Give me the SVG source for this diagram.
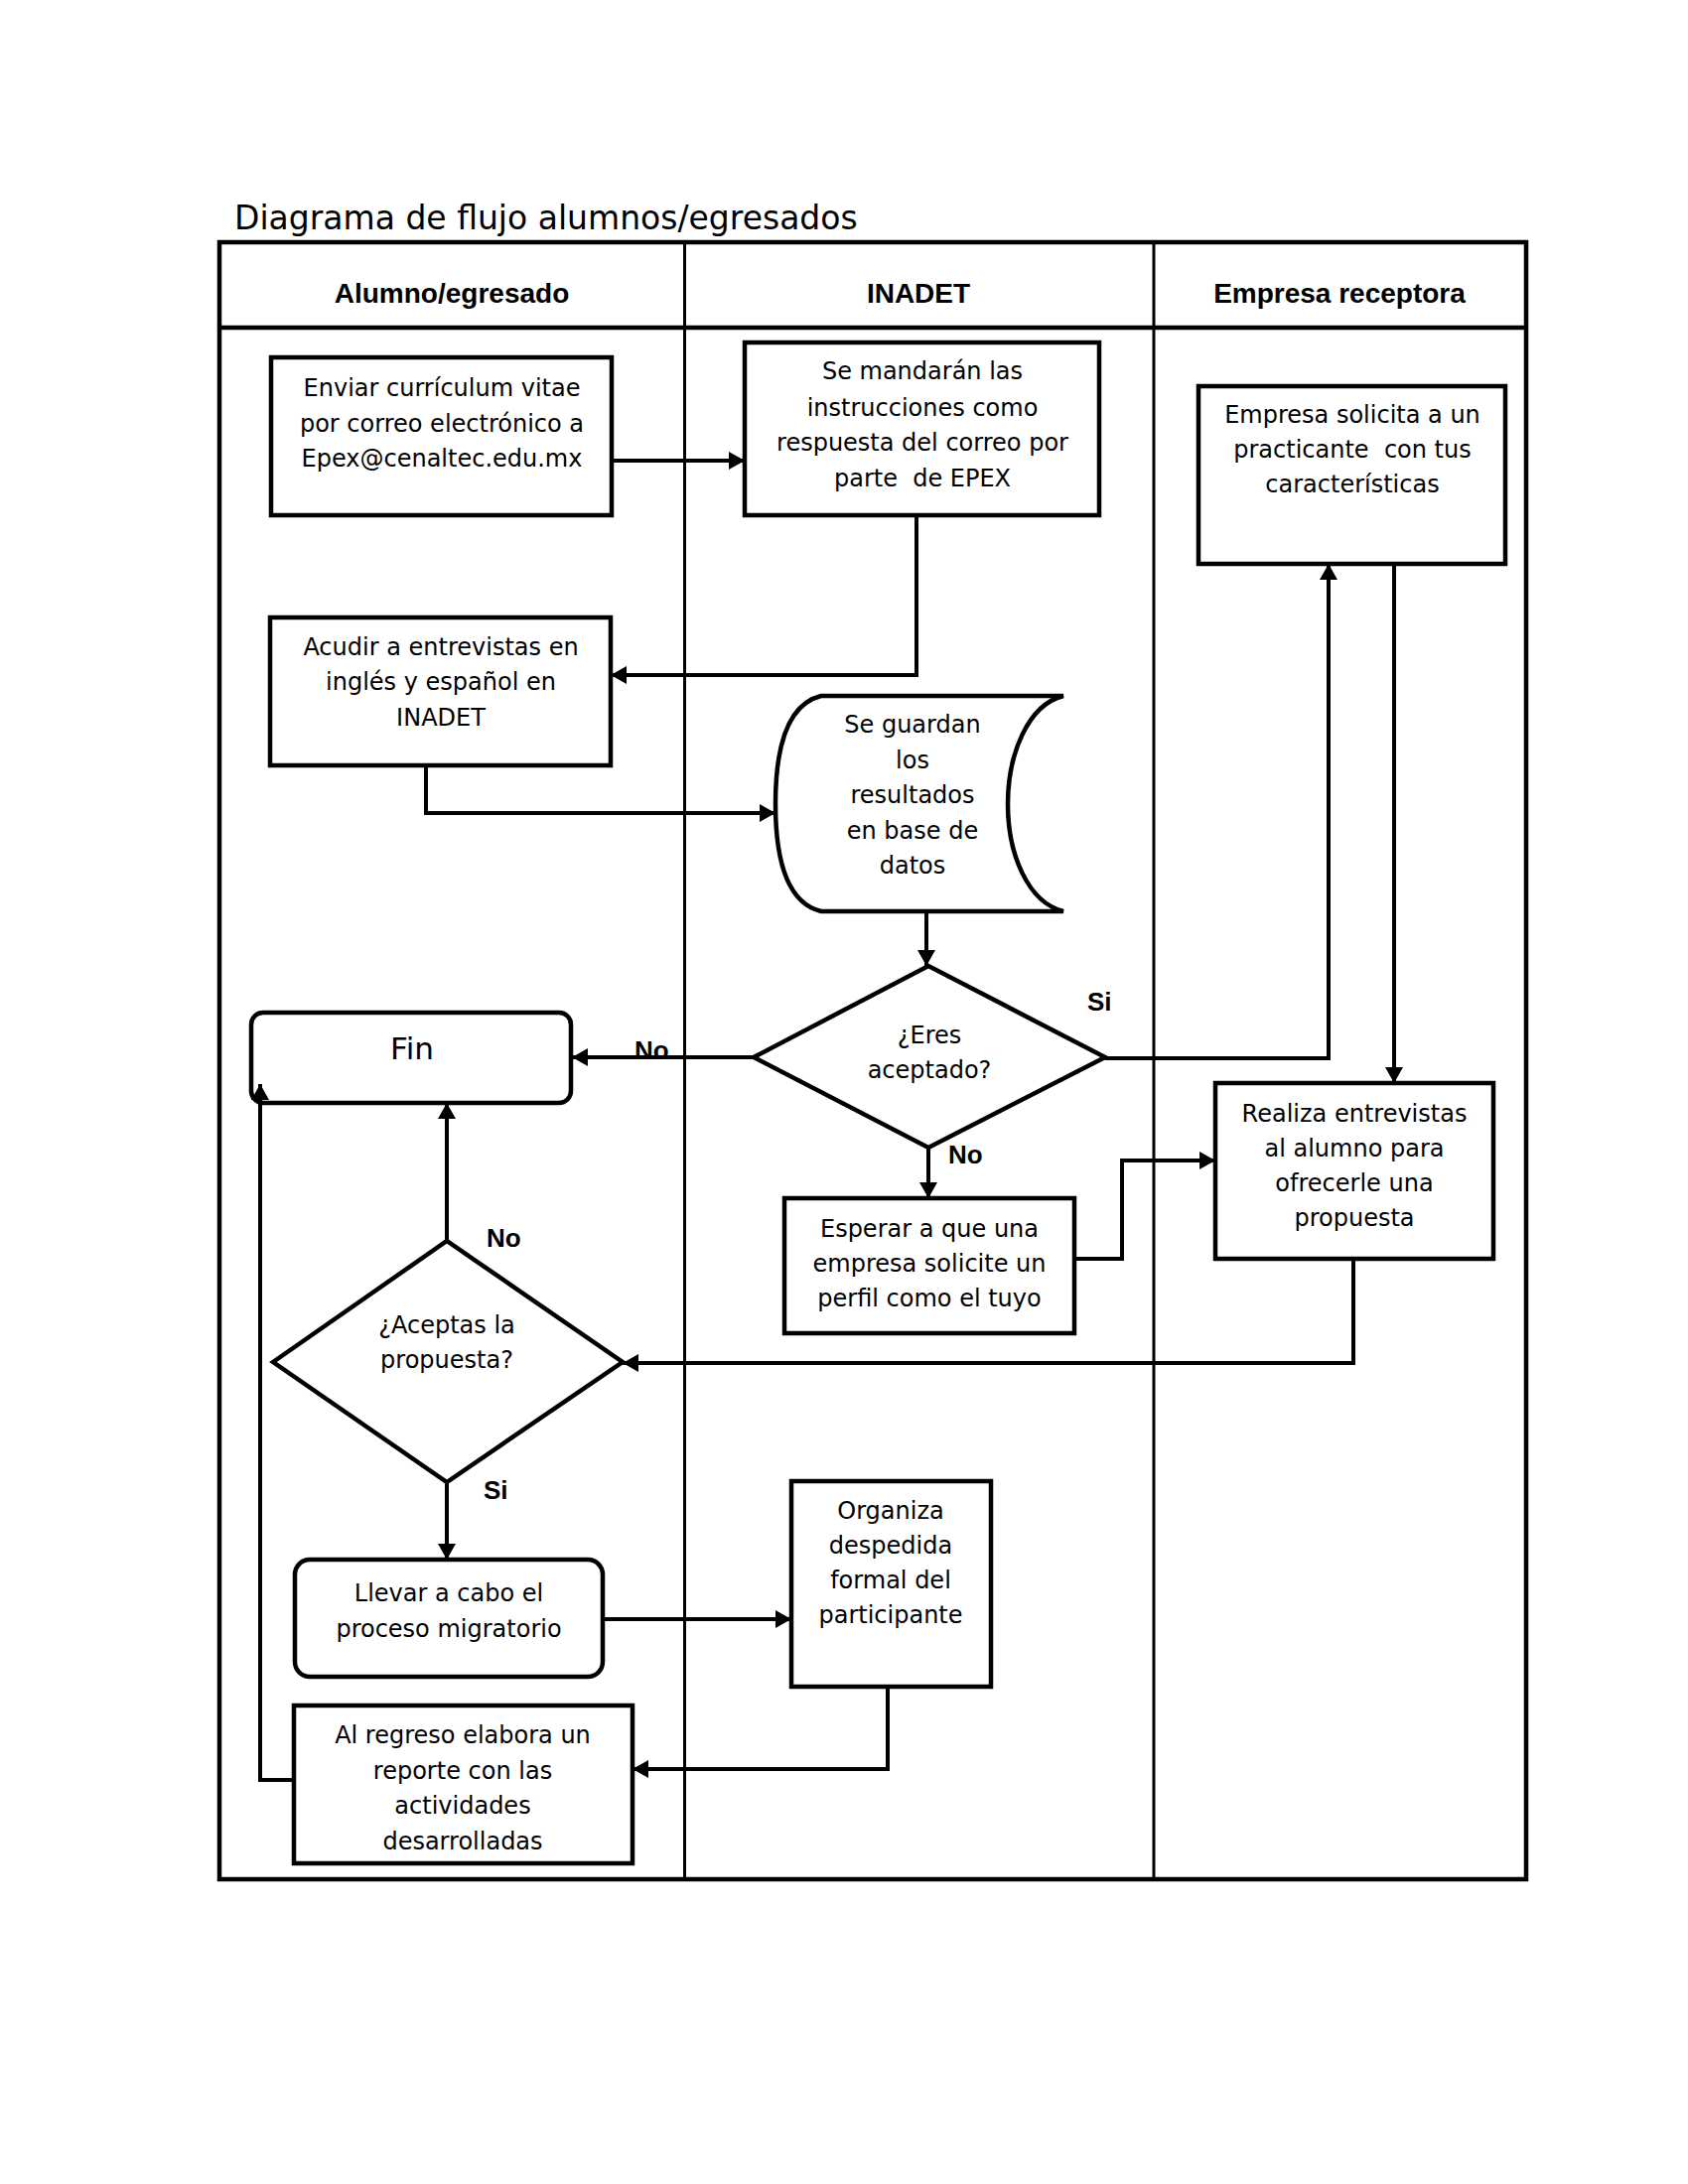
<svg xmlns="http://www.w3.org/2000/svg" width="1700" height="2200" viewBox="0 0 1700 2200">
<defs>
<style>
.bg{fill:#fff}
.tbl{fill:none;stroke:#000;stroke-width:4.5}
.div{fill:none;stroke:#000;stroke-width:3}
.box{fill:#fff;stroke:#000;stroke-width:4.5}
.con{fill:none;stroke:#000;stroke-width:4;marker-end:url(#arr)}
.t{font-family:"DejaVu Sans","Liberation Sans",sans-serif;font-size:24px;fill:#000;text-anchor:middle;white-space:pre}
.title{font-family:"DejaVu Sans","Liberation Sans",sans-serif;font-size:33px;fill:#000}
.hd{font-family:"Liberation Sans",Arial,sans-serif;font-size:28px;font-weight:bold;fill:#000;text-anchor:middle}
.lb{font-family:"Liberation Sans",Arial,sans-serif;font-size:26px;font-weight:bold;fill:#000}
</style>
<marker id="arr" viewBox="0 0 16 18" refX="16" refY="9" markerWidth="16" markerHeight="18" markerUnits="userSpaceOnUse" orient="auto">
<path d="M0 0 L16 9 L0 18 Z" fill="#000"/>
</marker>
</defs>
<rect class="bg" x="0" y="0" width="1700" height="2200"/>
<text class="title" x="236" y="231">Diagrama de flujo alumnos/egresados</text>
<g id="table">
<rect class="tbl" x="221" y="244" width="1316" height="1649"/>
<line class="tbl" x1="221" y1="330" x2="1537" y2="330"/>
<line class="div" x1="689.5" y1="244" x2="689.5" y2="1893"/>
<line class="div" x1="1162" y1="244" x2="1162" y2="1893"/>
<text class="hd" x="455" y="305">Alumno/egresado</text>
<text class="hd" x="925" y="305">INADET</text>
<text class="hd" x="1349" y="305">Empresa receptora</text>
</g>
<g id="n-enviar">
<rect class="box" x="273" y="360" width="343" height="159"/>
<text class="t" x="445" y="399">Enviar currículum vitae</text>
<text class="t" x="445" y="435">por correo electrónico a</text>
<text class="t" x="445" y="470">Epex@cenaltec.edu.mx</text>
</g>
<g id="n-mandaran">
<rect class="box" x="750" y="345" width="357" height="174"/>
<text class="t" x="929" y="382">Se mandarán las</text>
<text class="t" x="929" y="419">instrucciones como</text>
<text class="t" x="929" y="454">respuesta del correo por</text>
<text class="t" x="929" y="490">parte  de EPEX</text>
</g>
<g id="n-empresa">
<rect class="box" x="1207" y="389" width="309" height="179"/>
<text class="t" x="1362" y="426">Empresa solicita a un</text>
<text class="t" x="1362" y="461">practicante  con tus</text>
<text class="t" x="1362" y="496">características</text>
</g>
<g id="n-acudir">
<rect class="box" x="272" y="622" width="343" height="149"/>
<text class="t" x="444" y="660">Acudir a entrevistas en</text>
<text class="t" x="444" y="695">inglés y español en</text>
<text class="t" x="444" y="731">INADET</text>
</g>
<g id="n-datos">
<path class="box" d="M827 701 L1071 701 C1035 710 1015 760 1015 810 C1015 860 1035 909 1071 918 L827 918 C790 909 781 860 781 810 C781 760 790 710 827 701 Z"/>
<text class="t" x="919" y="738">Se guardan</text>
<text class="t" x="919" y="774">los</text>
<text class="t" x="919" y="809">resultados</text>
<text class="t" x="919" y="845">en base de</text>
<text class="t" x="919" y="880">datos</text>
</g>
<g id="n-eres">
<polygon class="box" points="759,1065 935,973 1113,1065 935,1156"/>
<text class="t" x="936" y="1051">¿Eres</text>
<text class="t" x="936" y="1086">aceptado?</text>
</g>
<g id="n-fin">
<rect class="box" x="253" y="1020" width="322" height="91" rx="12" ry="12"/>
<text class="t" x="415" y="1067" style="font-size:31px">Fin</text>
</g>
<g id="n-esperar">
<rect class="box" x="790" y="1207" width="292" height="136"/>
<text class="t" x="936" y="1246">Esperar a que una</text>
<text class="t" x="936" y="1281">empresa solicite un</text>
<text class="t" x="936" y="1316">perfil como el tuyo</text>
</g>
<g id="n-realiza">
<rect class="box" x="1224" y="1091" width="280" height="177"/>
<text class="t" x="1364" y="1130">Realiza entrevistas</text>
<text class="t" x="1364" y="1165">al alumno para</text>
<text class="t" x="1364" y="1200">ofrecerle una</text>
<text class="t" x="1364" y="1235">propuesta</text>
</g>
<g id="n-aceptas">
<polygon class="box" points="275,1372 450,1250 627,1372 450,1493"/>
<text class="t" x="450" y="1343">¿Aceptas la</text>
<text class="t" x="450" y="1378">propuesta?</text>
</g>
<g id="n-llevar">
<rect class="box" x="297" y="1571" width="310" height="118" rx="15" ry="15"/>
<text class="t" x="452" y="1613">Llevar a cabo el</text>
<text class="t" x="452" y="1649">proceso migratorio</text>
</g>
<g id="n-organiza">
<rect class="box" x="797" y="1492" width="201" height="207"/>
<text class="t" x="897" y="1530">Organiza</text>
<text class="t" x="897" y="1565">despedida</text>
<text class="t" x="897" y="1600">formal del</text>
<text class="t" x="897" y="1635">participante</text>
</g>
<g id="n-regreso">
<rect class="box" x="296" y="1718" width="341" height="159"/>
<text class="t" x="466" y="1756">Al regreso elabora un</text>
<text class="t" x="466" y="1792">reporte con las</text>
<text class="t" x="466" y="1827">actividades</text>
<text class="t" x="466" y="1863">desarrolladas</text>
</g>
<g id="connectors">
<path class="con" d="M616 464 H750"/>
<path class="con" d="M923 519 V680 H615"/>
<path class="con" d="M429 771 V819 H781"/>
<path class="con" d="M933 918 V973"/>
<path class="con" d="M759 1065 H576"/>
<path class="con" d="M1113 1066 H1338 V568"/>
<path class="con" d="M1404 568 V1091"/>
<path class="con" d="M935 1156 V1207"/>
<path class="con" d="M1082 1268 H1130 V1169 H1224"/>
<path class="con" d="M1363 1268 V1373 H627"/>
<path class="con" d="M450 1250 V1111"/>
<path class="con" d="M450 1493 V1571"/>
<path class="con" d="M607 1631 H797"/>
<path class="con" d="M894 1699 V1782 H637"/>
<path class="con" d="M296 1793 H262 V1092"/>
<text class="lb" x="639" y="1067">No</text>
<text class="lb" x="1095" y="1018">Si</text>
<text class="lb" x="955" y="1172">No</text>
<text class="lb" x="490" y="1256">No</text>
<text class="lb" x="487" y="1510">Si</text>
</g>
</svg>
